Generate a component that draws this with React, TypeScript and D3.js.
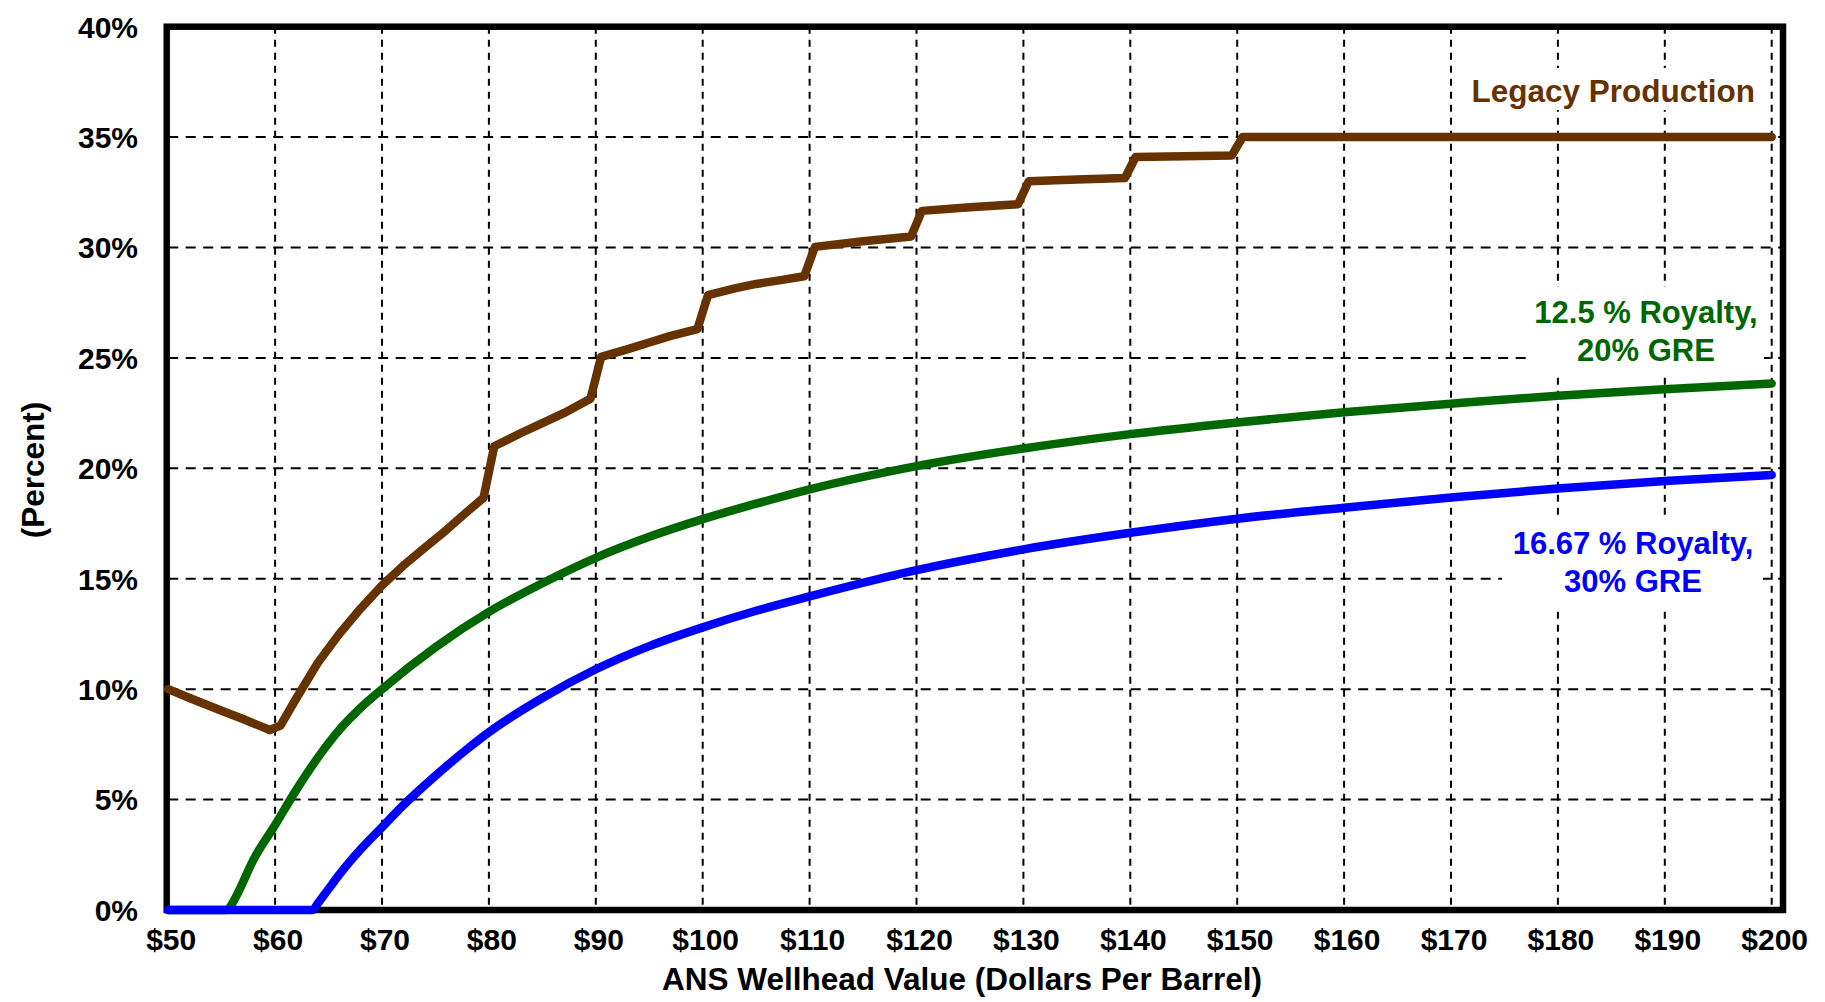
import React from "react";
import * as d3 from "d3";

// ---- data ----
const xTicks = [50, 60, 70, 80, 90, 100, 110, 120, 130, 140, 150, 160, 170, 180, 190, 200];
const yTicks = [0, 5, 10, 15, 20, 25, 30, 35, 40];

const legacyX = [50, 52, 55, 57, 59.5, 60.5, 62, 64, 66, 68, 70, 72, 74, 76, 78, 79.5, 80.5, 83, 85, 87, 89.5, 90.5, 93, 95, 97, 99.5, 100.5, 103, 105, 107, 109.5, 110.5, 115, 119.5, 120.5, 125, 129.5, 130.5, 135, 139.5, 140.5, 145, 149.5, 150.5, 200];
const legacyY = [10.0, 9.6, 9.02, 8.65, 8.15, 8.35, 9.6, 11.2, 12.5, 13.65, 14.7, 15.6, 16.4, 17.2, 18.05, 18.67, 21.0, 21.6, 22.05, 22.5, 23.15, 25.05, 25.4, 25.7, 26.0, 26.3, 27.85, 28.15, 28.35, 28.5, 28.7, 30.03, 30.28, 30.5, 31.66, 31.82, 31.96, 33.0, 33.08, 33.15, 34.1, 34.13, 34.17, 35.0, 35.0];

const greenX = [50, 55.5, 56, 56.5, 58, 60, 62, 64, 66, 68, 70, 75, 80, 85, 90, 95, 100, 105, 110, 120, 130, 140, 150, 160, 170, 180, 190, 200];
const greenY = [0, 0, 0.3, 0.75, 2.3, 3.85, 5.45, 6.9, 8.15, 9.15, 10.0, 11.9, 13.5, 14.8, 15.95, 16.9, 17.7, 18.4, 19.05, 20.1, 20.9, 21.55, 22.08, 22.54, 22.93, 23.29, 23.58, 23.84];

const blueX = [50, 63.5, 64, 65, 66, 67, 68, 70, 72, 74, 76, 78, 80, 85, 90, 95, 100, 105, 110, 120, 130, 140, 150, 160, 170, 180, 190, 200];
const blueY = [0, 0, 0.3, 0.95, 1.6, 2.2, 2.75, 3.75, 4.75, 5.65, 6.5, 7.3, 8.05, 9.6, 10.9, 11.95, 12.8, 13.55, 14.2, 15.39, 16.33, 17.08, 17.72, 18.22, 18.68, 19.09, 19.43, 19.7];

const seriesNames = ["Legacy Production", "12.5 % Royalty,|20% GRE", "16.67 % Royalty,|30% GRE"];
const seriesColors = ["#663300", "#006600", "#0000FF"];

const W = 1825;
const H = 1002;
const FONT = "'Liberation Sans', Arial, Helvetica, sans-serif";

export default function App() {
  const x = d3.scaleLinear().domain([50, 200]).range([168.2, 1771.7]);
  const y = d3.scaleLinear().domain([0, 40]).range([910, 26.7]);
  const frameRight = 1783;

  const mk = (xs: number[], ys: number[]) => xs.map((v, i) => [v, ys[i]] as [number, number]);
  const lineLin = d3.line<[number, number]>().x((d) => x(d[0])).y((d) => y(d[1])).curve(d3.curveLinear);
  const lineSmooth = d3.line<[number, number]>().x((d) => x(d[0])).y((d) => y(d[1])).curve(d3.curveMonotoneX);

  const legacyPath = lineLin(mk(legacyX, legacyY)) || "";
  const greenPath = lineSmooth(mk(greenX, greenY)) || "";
  const bluePath = lineSmooth(mk(blueX, blueY)) || "";

  const [legName, greenName, blueName] = seriesNames.map((s) => s.split("|"));
  const lw = 8.5;

  return (
    <svg width={W} height={H} style={{ position: "absolute", left: 0, top: 0, background: "#fff" }} fontFamily={FONT}>
      <rect x={0} y={0} width={W} height={H} fill="#fff" />
      {/* vertical gridlines */}
      {xTicks.filter((t) => t > 50).map((t) => (
        <line key={"vx" + t} x1={x(t)} x2={x(t)} y1={y(40)} y2={y(0)} stroke="#000" strokeWidth={2} strokeDasharray="7,6" />
      ))}
      {/* horizontal gridlines */}
      {yTicks.filter((t) => t > 0 && t < 40).map((t) => (
        <line key={"hy" + t} x1={x(50)} x2={frameRight} y1={y(t)} y2={y(t)} stroke="#000" strokeWidth={2} strokeDasharray="10,7.5" />
      ))}

      {/* label backgrounds */}
      <rect x={1462} y={68} width={298} height={42} fill="#fff" />
      <rect x={1530} y={287} width={234} height={90} fill="#fff" />
      <rect x={1502} y={517} width={261} height={90} fill="#fff" />

      {/* frame */}
      <rect x={166.7} y={26.7} width={frameRight - 166.7} height={910 - 26.7} fill="none" stroke="#000" strokeWidth={6.5} />

      {/* series */}
      <path d={legacyPath} fill="none" stroke={seriesColors[0]} strokeWidth={lw} strokeLinejoin="round" strokeLinecap="round" />
      <path d={greenPath} fill="none" stroke={seriesColors[1]} strokeWidth={lw} strokeLinejoin="round" strokeLinecap="round" />
      <path d={bluePath} fill="none" stroke={seriesColors[2]} strokeWidth={lw} strokeLinejoin="round" strokeLinecap="round" />

      {/* y tick labels */}
      {yTicks.map((t) => (
        <text key={"yl" + t} x={138} y={y(t)} dy="0.36em" textAnchor="end" fontSize={30} fontWeight="bold" fill="#000">
          {t + "%"}
        </text>
      ))}
      {/* x tick labels */}
      {xTicks.map((t) => (
        <text key={"xl" + t} x={x(t) + 3} y={950} textAnchor="middle" fontSize={30} fontWeight="bold" fill="#000">
          {"$" + t}
        </text>
      ))}

      {/* axis titles */}
      <text x={962} y={990} textAnchor="middle" fontSize={31.5} fontWeight="bold" fill="#000">
        ANS Wellhead Value (Dollars Per Barrel)
      </text>
      <text transform="translate(44,470) rotate(-90)" textAnchor="middle" fontSize={31.5} fontWeight="bold" fill="#000">
        (Percent)
      </text>

      {/* series labels */}
      <text x={1755} y={102} textAnchor="end" fontSize={31.5} fontWeight="bold" fill={seriesColors[0]}>
        {legName[0]}
      </text>
      <text textAnchor="middle" fontSize={31} fontWeight="bold" fill={seriesColors[1]}>
        <tspan x={1646} y={323}>{greenName[0]}</tspan>
        <tspan x={1646} y={361}>{greenName[1]}</tspan>
      </text>
      <text textAnchor="middle" fontSize={31} fontWeight="bold" fill={seriesColors[2]}>
        <tspan x={1633} y={554}>{blueName[0]}</tspan>
        <tspan x={1633} y={592}>{blueName[1]}</tspan>
      </text>
    </svg>
  );
}
